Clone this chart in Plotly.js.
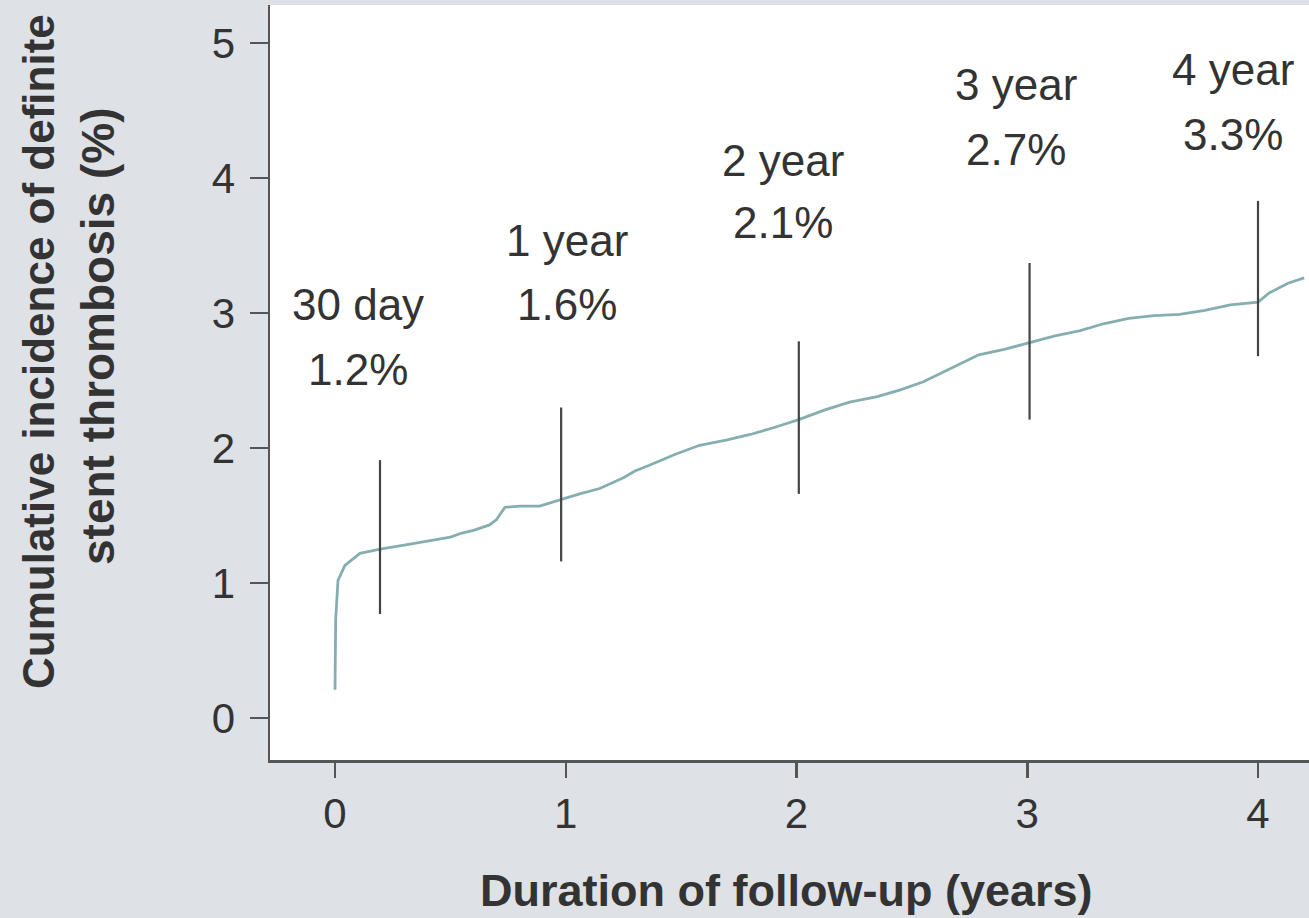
<!DOCTYPE html>
<html>
<head>
<meta charset="utf-8">
<script src="https://cdn.plot.ly/plotly-3.0.1.min.js"></script>
<style>html,body{margin:0;padding:0;background:#dee1e5;}#chart{width:1309px;height:918px;}</style>
</head>
<body>
<div id="chart"></div>
<script>
// Cumulative incidence curve (years, %)
const curveX = [0, 0.003, 0.013, 0.043, 0.108, 0.195, 0.30, 0.368, 0.50, 0.55, 0.60, 0.67, 0.70, 0.736, 0.80, 0.887, 1.0, 1.06, 1.147, 1.25, 1.30, 1.36, 1.47, 1.58, 1.70, 1.80, 1.90, 2.01, 2.12, 2.23, 2.35, 2.45, 2.55, 2.66, 2.79, 2.90, 3.01, 3.12, 3.23, 3.33, 3.44, 3.55, 3.66, 3.77, 3.88, 4.0, 4.05, 4.13, 4.2];
const curveY = [0.21, 0.73, 1.02, 1.13, 1.22, 1.25, 1.28, 1.30, 1.34, 1.37, 1.39, 1.43, 1.47, 1.56, 1.57, 1.57, 1.63, 1.66, 1.70, 1.78, 1.83, 1.87, 1.95, 2.02, 2.06, 2.10, 2.15, 2.21, 2.28, 2.34, 2.38, 2.43, 2.49, 2.58, 2.69, 2.73, 2.78, 2.83, 2.87, 2.92, 2.96, 2.98, 2.99, 3.02, 3.06, 3.08, 3.15, 3.22, 3.26];

// Confidence bars at time points
const barX = [0.195, 0.98, 2.01, 3.01, 4.0];
const barCenter = [1.25, 1.63, 2.21, 2.78, 3.08];
const barLow = [0.77, 1.16, 1.66, 2.21, 2.68];
const barHigh = [1.91, 2.30, 2.79, 3.37, 3.83];

// Time-point labels
const labelNames = ['30 day', '1 year', '2 year', '3 year', '4 year'];
const labelPcts = ['1.2%', '1.6%', '2.1%', '2.7%', '3.3%'];
const labelX = [0.10, 1.005, 1.94, 2.95, 3.89];
const labelNameY = [3.06, 3.54, 4.13, 4.69, 4.80];
const labelPctY = [2.58, 3.06, 3.67, 4.21, 4.32];

const xTicks = [0, 1, 2, 3, 4];
const yTicks = [0, 1, 2, 3, 4, 5];

const textColor = '#333333';
const font = 'Liberation Sans, Arial, sans-serif';

const traces = [
  {
    x: curveX, y: curveY, type: 'scatter', mode: 'lines',
    line: {color: '#86aeb0', width: 2.8, shape: 'linear'},
    hoverinfo: 'skip', showlegend: false
  },
  {
    x: barX, y: barCenter, type: 'scatter', mode: 'markers',
    marker: {size: 1, color: 'rgba(0,0,0,0)'},
    error_y: {
      type: 'data', symmetric: false,
      array: barHigh.map((h, i) => h - barCenter[i]),
      arrayminus: barLow.map((l, i) => barCenter[i] - l),
      color: '#444444', thickness: 2.2, width: 0
    },
    hoverinfo: 'skip', showlegend: false
  }
];

const annotations = [];
labelNames.forEach((t, i) => {
  annotations.push({x: labelX[i], y: labelNameY[i], xref: 'x', yref: 'y', text: t, showarrow: false,
    font: {family: font, size: 44, color: textColor}, xanchor: 'center', yanchor: 'middle'});
  annotations.push({x: labelX[i], y: labelPctY[i], xref: 'x', yref: 'y', text: labelPcts[i], showarrow: false,
    font: {family: font, size: 44, color: textColor}, xanchor: 'center', yanchor: 'middle'});
});
// Y axis title (two lines)
annotations.push({x: (38 - 270) / 1039, y: (760 - 352) / 755, xref: 'paper', yref: 'paper',
  text: 'Cumulative incidence of definite', textangle: -90, showarrow: false,
  font: {family: font, size: 44, color: textColor, weight: 'bold'}, xanchor: 'center', yanchor: 'middle'});
annotations.push({x: (98 - 270) / 1039, y: (760 - 337) / 755, xref: 'paper', yref: 'paper',
  text: 'stent thrombosis (%)', textangle: -90, showarrow: false,
  font: {family: font, size: 46, color: textColor, weight: 'bold'}, xanchor: 'center', yanchor: 'middle'});
// X axis title
annotations.push({x: (786 - 270) / 1039, y: (760 - 890) / 755, xref: 'paper', yref: 'paper',
  text: 'Duration of follow-up (years)', showarrow: false,
  font: {family: font, size: 45, color: textColor, weight: 'bold'}, xanchor: 'center', yanchor: 'middle'});

const layout = {
  width: 1309, height: 918,
  margin: {l: 270, r: 0, t: 5, b: 158},
  paper_bgcolor: '#dee1e5', plot_bgcolor: '#ffffff',
  showlegend: false,
  xaxis: {
    range: [-0.2817, 4.221], tickvals: xTicks, ticktext: xTicks.map(String),
    showgrid: false, zeroline: false, showline: true, linecolor: '#555555', linewidth: 2.5,
    ticks: 'outside', ticklen: 15, tickwidth: 2.5, tickcolor: '#555555',
    tickfont: {family: font, size: 42, color: textColor}, fixedrange: true
  },
  yaxis: {
    range: [-0.311, 5.281], tickvals: yTicks, ticktext: yTicks.map(String),
    showgrid: false, zeroline: false, showline: true, linecolor: '#555555', linewidth: 2.5,
    ticks: 'outside', ticklen: 18, tickwidth: 2.5, tickcolor: '#555555', ticklabelstandoff: 6,
    tickfont: {family: font, size: 42, color: textColor}, fixedrange: true
  },
  annotations: annotations
};

Plotly.newPlot('chart', traces, layout, {displayModeBar: false, staticPlot: true});
</script>
</body>
</html>
